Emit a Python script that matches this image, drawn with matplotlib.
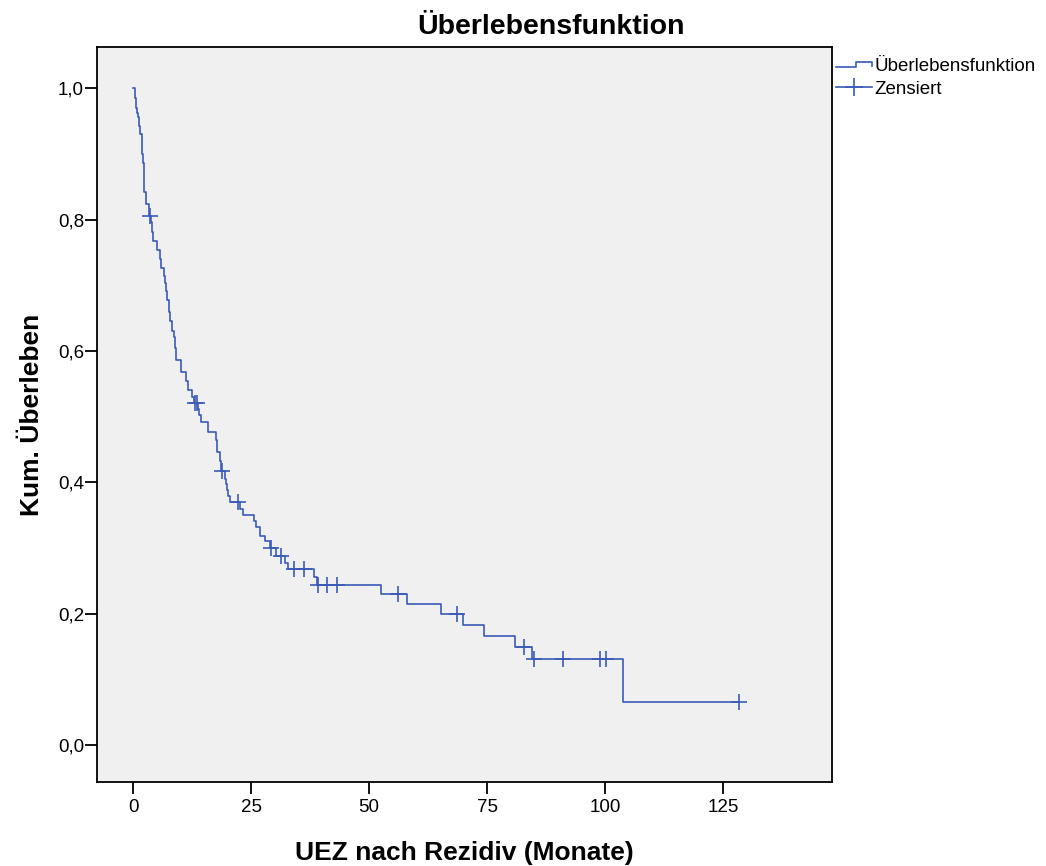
import matplotlib
matplotlib.use("Agg")
import matplotlib.pyplot as plt
import numpy as np
from matplotlib.lines import Line2D
from matplotlib.legend_handler import HandlerBase
from matplotlib.ticker import FuncFormatter

plt.rcParams['font.family'] = ['Liberation Sans', 'DejaVu Sans']

# Kaplan-Meier steps: time of event, survival after it
event_t = [0.35, 0.57, 0.8, 1.06, 1.25, 1.42, 1.78, 1.95, 2.12, 2.2, 2.27, 2.33,
           2.69, 3.4, 3.75, 4.0, 4.24, 5.0, 5.66, 6.0, 6.5, 6.75, 6.93, 7.08,
           7.56, 7.85, 8.14, 8.69, 8.85, 9.05, 10.04, 11.3, 11.6, 12.4, 12.9,
           13.77, 14.0, 14.28, 15.83, 17.52, 17.8, 18.37, 18.6, 19.43, 19.7,
           19.92, 20.2, 20.5, 22.6, 23.3, 25.5, 26.1, 26.84, 27.9, 28.96, 30.2,
           32.1, 32.8, 38.3, 39.0, 52.5, 58.05, 65.3, 69.9, 74.4, 81.0, 84.6,
           103.7]
event_s = [0.985, 0.970, 0.962, 0.956, 0.943, 0.930, 0.9125, 0.900, 0.887, 0.872,
           0.857, 0.8415, 0.824, 0.806, 0.796, 0.782, 0.768, 0.754, 0.740, 0.727,
           0.715, 0.704, 0.692, 0.677, 0.659, 0.645, 0.631, 0.621, 0.604, 0.586,
           0.568, 0.555, 0.540, 0.530, 0.521, 0.512, 0.502, 0.492, 0.4765, 0.464,
           0.446, 0.433, 0.417, 0.4056, 0.397, 0.388, 0.379, 0.370, 0.360, 0.350,
           0.341, 0.332, 0.319, 0.310, 0.300, 0.2875, 0.277, 0.268, 0.256, 0.2435,
           0.2297, 0.2144, 0.199, 0.1825, 0.1658, 0.1495, 0.131, 0.0659]

# censored observations (months)
censor_t = [3.6, 13.0, 13.6, 18.8, 22.3, 29.2, 31.4, 34.1, 36.2, 39.2, 41.1,
            43.1, 56.1, 68.6, 82.8, 84.9, 91.0, 99.0, 100.1, 128.3]

line_col = '#3A5AB6'

t_all = np.array([0.0] + event_t + [max(censor_t)])
s_all = np.array([1.0] + event_s + [event_s[-1]])
idx = np.searchsorted(t_all, censor_t, side='right') - 1
censor_s = s_all[idx]

fig = plt.figure(figsize=(10.46, 8.66), dpi=100)
ax = fig.add_axes([0.093, 0.0973, 0.7021, 0.8484])
ax.set_facecolor('#F0F0F0')

ax.step(t_all, s_all, where='post', color=line_col, lw=1.2)
ax.plot(censor_t, censor_s, ls='none', marker='+', ms=12, mew=1.2, color=line_col)

ax.set_xlim(-7.6, 148)
ax.set_ylim(-0.056, 1.063)
ax.set_xticks([0, 25, 50, 75, 100, 125])
ax.set_yticks([0.0, 0.2, 0.4, 0.6, 0.8, 1.0])
ax.yaxis.set_major_formatter(FuncFormatter(lambda v, p: f"{v:.1f}".replace('.', ',')))
ax.tick_params(axis='both', labelsize=13.5, length=8.5, width=1.3, colors='black')
ax.tick_params(axis='y', pad=1)
ax.tick_params(axis='x', pad=4)
for sp in ax.spines.values():
    sp.set_linewidth(1.3)
    sp.set_color('black')

ax.set_xlabel('UEZ nach Rezidiv (Monate)', fontsize=19, fontweight='bold', labelpad=18)
ax.set_ylabel('Kum. Überleben', fontsize=19, fontweight='bold', labelpad=10)
fig.text(551 / 1046, 1 - 27 / 866, 'Überlebensfunktion', fontsize=20.5, fontweight='bold',
         ha='center', va='center')


class StepHandler(HandlerBase):
    def create_artists(self, legend, orig_handle, xdescent, ydescent, width, height,
                       fontsize, trans):
        lo = height * 0.3 - ydescent
        hi = height * 0.65 - ydescent
        xs = [-xdescent, -xdescent + width * 0.55, -xdescent + width * 0.55,
              -xdescent + width, -xdescent + width]
        ys = [lo, lo, hi, hi, lo + (hi - lo) * 0.2]
        ln = Line2D(xs, ys, color=line_col, lw=1.2, transform=trans)
        return [ln]


h_surv = Line2D([], [], color=line_col, lw=1.2)
h_cens = Line2D([], [], color=line_col, lw=1.2, marker='+', ms=13, mew=1.2)
leg = ax.legend([h_surv, h_cens], ['Überlebensfunktion', 'Zensiert'],
                handler_map={h_surv: StepHandler()},
                loc='upper left', bbox_to_anchor=(1.003, 0.988), frameon=False,
                fontsize=13.5, handlelength=1.95, handletextpad=0.1,
                borderaxespad=0, borderpad=0.1, labelspacing=0.3)

fig.savefig('out.png', dpi=100, facecolor='white')
